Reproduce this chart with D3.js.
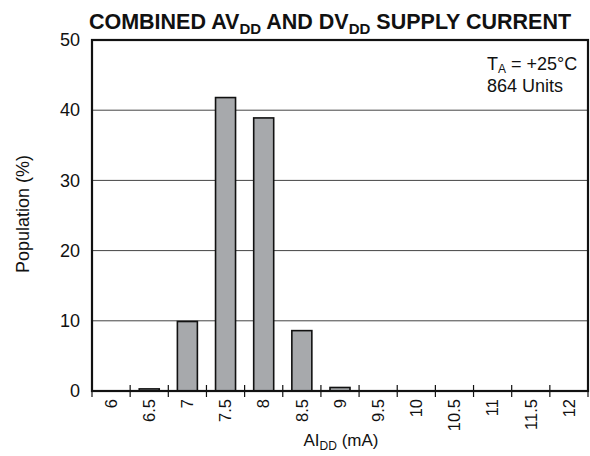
<!DOCTYPE html>
<html><head><meta charset="utf-8">
<script src="https://cdn.jsdelivr.net/npm/d3@7"></script>
<style>body{margin:0;background:#fff}svg{display:block}text{font-family:"Liberation Sans",Arial,sans-serif}</style>
</head><body><svg id="c" width="590" height="456"></svg>
<script>
const categories = ["6","6.5","7","7.5","8","8.5","9","9.5","10","10.5","11","11.5","12"];
const population = [0, 0.3, 9.9, 41.8, 38.9, 8.6, 0.5, 0, 0, 0, 0, 0, 0];
const yTicks = [0, 10, 20, 30, 40, 50];

const svg = d3.select("#c");
const m = {l: 92, r: 588, t: 40, b: 391};
const x = d3.scaleBand().domain(categories).range([m.l, m.r]).paddingInner(0).paddingOuter(0);
const y = d3.scaleLinear().domain([0, 50]).range([m.b, m.t]);
const FF = '"Liberation Sans",Arial,sans-serif';

// gridlines
svg.append("g").selectAll("line").data(yTicks.filter(d => d > 0 && d < 50)).join("line")
  .attr("x1", m.l).attr("x2", m.r).attr("y1", d => y(d)).attr("y2", d => y(d))
  .attr("stroke", "#444").attr("stroke-width", 1);

// bars
const bw = 20;
svg.append("g").selectAll("rect").data(categories.map((c, i) => ({c, v: population[i]})).filter(d => d.v > 0)).join("rect")
  .attr("x", d => x(d.c) + x.bandwidth()/2 - bw/2)
  .attr("width", bw)
  .attr("y", d => y(d.v))
  .attr("height", d => y(0) - y(d.v))
  .attr("fill", "#a7a9ac").attr("stroke", "#111").attr("stroke-width", 1.6);

// x tick marks at band boundaries
const bounds = categories.map(c => x(c)).concat([x(categories[categories.length-1]) + x.bandwidth()]);
svg.append("g").selectAll("line").data(bounds).join("line")
  .attr("x1", d => d).attr("x2", d => d).attr("y1", m.b - 6).attr("y2", m.b + 6)
  .attr("stroke", "#111").attr("stroke-width", 1.2);

// frame
svg.append("rect").attr("x", m.l).attr("y", m.t).attr("width", m.r - m.l).attr("height", m.b - m.t)
  .attr("fill", "none").attr("stroke", "#111").attr("stroke-width", 2.2);

// y axis labels
const yAxis = d3.axisLeft(y).tickValues(yTicks).tickSize(0).tickPadding(12);
const ga = svg.append("g").attr("transform", `translate(${m.l},0)`).call(yAxis);
ga.select(".domain").remove();
ga.selectAll("text").attr("font-size", 18).attr("fill", "#111").style("font-family", FF);

// x labels rotated
const xAxis = d3.axisBottom(x).tickSize(0).tickPadding(0);
const gx = svg.append("g").attr("transform", `translate(0,${m.b})`).call(xAxis);
gx.select(".domain").remove();
gx.selectAll("text")
  .attr("transform", "rotate(-90)")
  .attr("x", -8).attr("y", 0).attr("dy", "0.35em")
  .attr("text-anchor", "end")
  .attr("font-size", 16.5).attr("fill", "#111").style("font-family", FF);

// title
const title = svg.append("text").attr("x", 330).attr("y", 29).attr("text-anchor", "middle")
  .attr("font-size", 21.5).attr("font-weight", "bold").attr("fill", "#111");
title.append("tspan").text("COMBINED AV");
title.append("tspan").text("DD").attr("font-size", 15).attr("dy", 5);
title.append("tspan").text(" AND DV").attr("dy", -5);
title.append("tspan").text("DD").attr("font-size", 15).attr("dy", 5);
title.append("tspan").text(" SUPPLY CURRENT").attr("dy", -5);

// y title
svg.append("text").attr("transform", "translate(29,214) rotate(-90)").attr("text-anchor", "middle")
  .attr("font-size", 18).attr("fill", "#111").text("Population (%)");

// x title
const xt = svg.append("text").attr("x", 341).attr("y", 446).attr("text-anchor", "middle")
  .attr("font-size", 17).attr("fill", "#111");
xt.append("tspan").text("AI");
xt.append("tspan").text("DD").attr("font-size", 12).attr("dy", 4);
xt.append("tspan").text(" (mA)").attr("dy", -4);

// annotation
const a1 = svg.append("text").attr("x", 487).attr("y", 70).attr("font-size", 18).attr("fill", "#111");
a1.append("tspan").text("T");
a1.append("tspan").text("A").attr("font-size", 12).attr("dy", 3);
a1.append("tspan").text(" = +25°C").attr("dy", -3);
svg.append("text").attr("x", 487).attr("y", 92).attr("font-size", 18).attr("fill", "#111").text("864 Units");
</script></body></html>
